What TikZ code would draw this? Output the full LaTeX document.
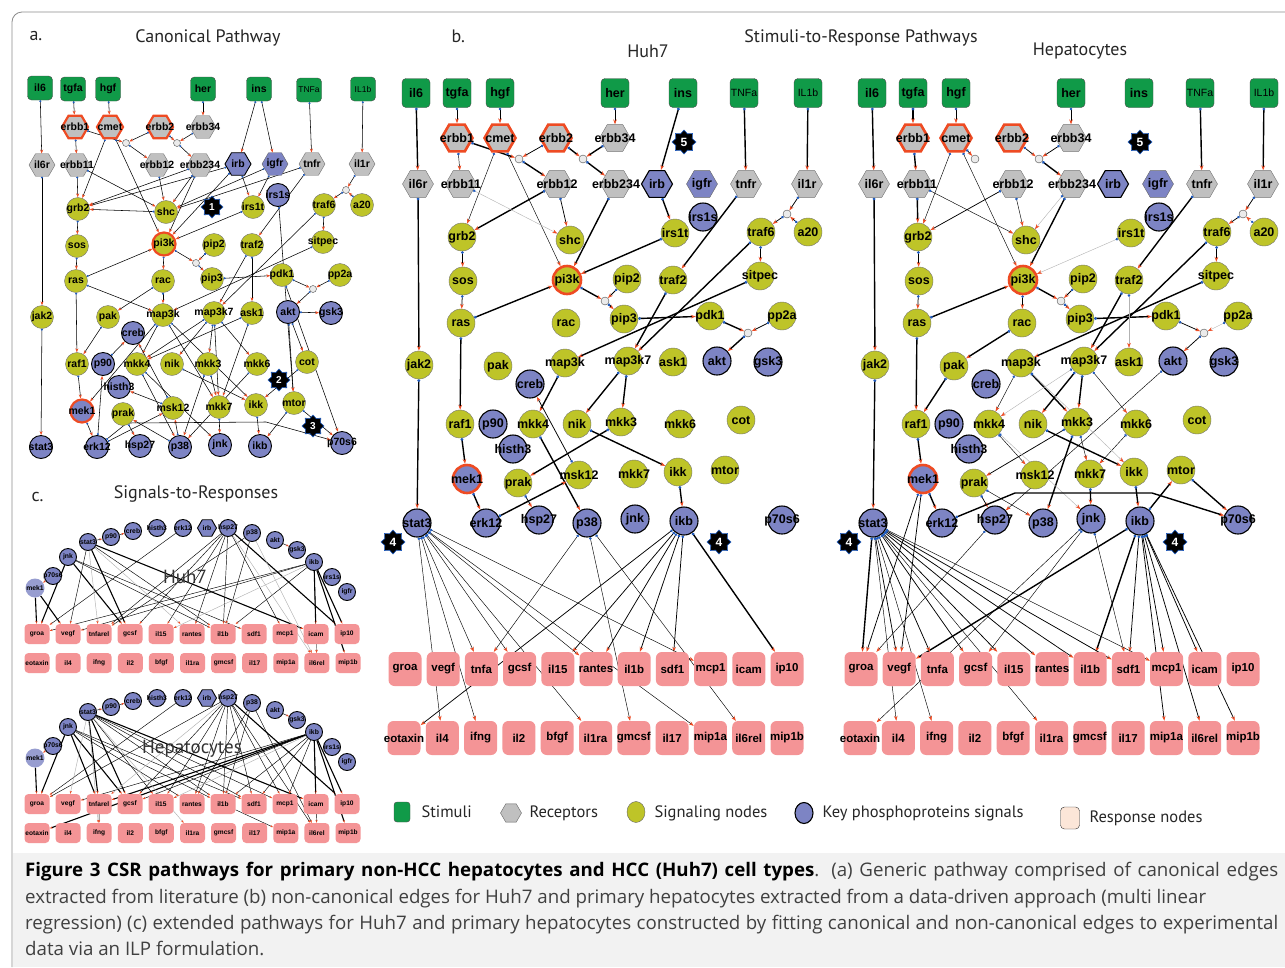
\documentclass[tikz,border=0pt]{standalone}
\usepackage{fontspec}
\setmainfont{PT Sans}
\newfontfamily\nf{Liberation Sans}
\newfontfamily\capf{Open Sans}
\usetikzlibrary{arrows.meta,shapes.geometric}
\pgfdeclarelayer{bg}
\pgfsetlayers{bg,main}
\definecolor{stimc}{RGB}{16,154,72}
\definecolor{recc}{RGB}{192,192,192}
\definecolor{sigc}{RGB}{190,196,40}
\definecolor{keyc}{RGB}{125,132,196}
\definecolor{respc}{RGB}{244,148,150}
\definecolor{redc}{RGB}{238,75,35}
\definecolor{dotc}{RGB}{30,90,190}
\definecolor{legresp}{RGB}{252,230,216}
\tikzset{
 stim/.style={rectangle, rounded corners=4pt, fill=stimc, draw=black!70, line width=0.4pt, minimum width=\Swd, minimum height=\Sht, inner sep=0pt},
 rec/.style={regular polygon, regular polygon sides=6, fill=recc, draw=black!55, line width=0.4pt, minimum size=\Hsz, inner sep=0pt},
 recr/.style={rec, draw=redc, line width=\Rwd},
 kph/.style={rec, fill=keyc, draw=black, line width=\Kwd},
 kpht/.style={rec, fill=keyc, draw=black!60, line width=0.4pt},
 sig/.style={circle, fill=sigc, draw=black!55, line width=0.4pt, minimum size=\Csz, inner sep=0pt},
 sigr/.style={sig, draw=redc, line width=\Rwd},
 kp/.style={circle, fill=keyc, draw=black, line width=\Kwd, minimum size=\Csz, inner sep=0pt},
 kpr/.style={kp, draw=redc, line width=\Rwd},
 kpm/.style={circle, fill=keyc!80!white, minimum size=19pt, inner sep=0pt},
 resp/.style={rectangle, rounded corners=\Rrc, fill=respc, minimum width=\RSw, minimum height=\RSh, inner sep=0pt},
 junc/.style={circle, fill=black!8, draw=black!70, line width=0.4pt, minimum size=8pt, inner sep=0pt},
 starn/.style={star, star points=8, star point ratio=1.35, fill=black, draw=dotc, line width=0.6pt, minimum size=\Ssz, inner sep=0pt, text=white, font=\nf\bfseries\Stf},
 lbl/.style={inner sep=0pt, font=\nf\bfseries\Lfnt},
 rl/.style={font=\nf\bfseries\RLf},
 stl/.style={font=\nf\mdseries\Sfnt},
 eb/.style={line width=0.75pt, {Circle[length=2.6pt,color=dotc]}-{Stealth[length=5pt,width=3.6pt,color=redc]}},
 ebk/.style={eb, line width=1.4pt},
 ebt/.style={eb, line width=0.45pt},
 ebl/.style={eb, line width=0.4pt, draw=black!30},
 eba/.style={line width=0.55pt, {Circle[length=2pt,color=dotc]}-{Stealth[length=4pt,width=3pt,color=redc]}},
 ec/.style={line width=0.45pt, -{Stealth[length=3pt,width=2.2pt,color=redc]}},
 eck/.style={ec, line width=1.1pt},
 ecl/.style={ec, draw=black!30},
 head/.style={font=\fontsize{18}{18}\selectfont, text=black!85},
 leg/.style={anchor=west, font=\fontsize{16.5}{16.5}\selectfont, text=black!85},
}
\newcommand\mknode[5][]{\node[#2] (#3) at (#4) {}; \node[lbl,#1] at (#3) {#5};}
\newcommand\edges[2]{\foreach \pA/\pB in {#2}{\draw[#1] (\pA) -- (\pB);}}

% ---------- panel b node layout (Huh7 frame) ----------
\newcommand\PanelBNodes{%
\mknode{stim}{il6}{416,93}{il6}
\mknode{stim}{tgfa}{457,93}{tgfa}
\mknode{stim}{hgf}{500,93}{hgf}
\mknode{stim}{her}{615,93}{her}
\mknode{stim}{ins}{683,93}{ins}
\mknode[stl]{stim}{TNFa}{744,93}{TNFa}
\mknode[stl]{stim}{IL1b}{808,93}{IL1b}
\mknode{recr}{erbb1}{457,138}{erbb1}
\mknode{recr}{cmet}{500,138}{cmet}
\mknode{recr}{erbb2}{556,138}{erbb2}
\mknode{rec}{erbb34}{615,138}{erbb34}
\mknode{rec}{il6r}{418,184}{il6r}
\mknode{rec}{erbb11}{461,184}{erbb11}
\mknode{rec}{erbb12}{557,184}{erbb12}
\mknode{rec}{erbb234}{616,184}{erbb234}
\mknode{kph}{irb}{657,184}{irb}
\mknode{kpht}{igfr}{702,184}{igfr}
\mknode{rec}{tnfr}{746,184}{tnfr}
\mknode{rec}{il1r}{807,184}{il1r}
\node[junc] (jA) at (519,159) {};
\node[junc] (jB) at (583,159) {};
\node[junc] (jC) at (787,214) {};
\node[junc] (jp) at (605,301) {};
\node[junc] (jD) at (748,333) {};
\node[starn] (s5) at (684,142) {5};
\mknode{kp}{rs1s}{703,217}{irs1s}
\mknode{sig}{grb2}{462,237}{grb2}
\mknode{sig}{shc}{570,240}{shc}
\mknode{sig}{irs1t}{675,233}{irs1t}
\mknode{sig}{traf6}{761,232}{traf6}
\mknode{sig}{a20}{808,232}{a20}
\mknode{sig}{sos}{463,281}{sos}
\mknode{sigr}{pi3k}{567,280}{pi3k}
\mknode{sig}{pip2}{627,279}{pip2}
\mknode{sig}{traf2}{673,280}{traf2}
\mknode{sig}{sitpec}{760,276}{sitpec}
\mknode{sig}{ras}{461,323}{ras}
\mknode{sig}{rac}{566,323}{rac}
\mknode{sig}{pip3}{624,319}{pip3}
\mknode{sig}{pdk1}{710,316}{pdk1}
\mknode{sig}{pp2a}{782,316}{pp2a}
\mknode{sig}{jak2}{419,365}{jak2}
\mknode{sig}{pak}{498,366}{pak}
\mknode{sig}{map3k}{565,363}{map3k}
\mknode{sig}{map3k7}{628,361}{map3k7}
\mknode{sig}{ask1}{673,362}{ask1}
\mknode{kp}{akt}{717,361}{akt}
\mknode{kp}{gsk3}{768,362}{gsk3}
\mknode{kp}{creb}{530,384}{creb}
\mknode{sig}{raf1}{460,424}{raf1}
\mknode{kp}{p90}{493,424}{p90}
\mknode{sig}{mkk4}{533,424}{mkk4}
\mknode{sig}{nik}{577,424}{nik}
\mknode{sig}{mkk3}{621,422}{mkk3}
\mknode{sig}{mkk6}{680,424}{mkk6}
\mknode{sig}{cot}{741,420}{cot}
\mknode{kp}{histh3}{513,449}{histh3}
\mknode{kpr}{mek1}{467,479}{mek1}
\mknode{sig}{prak}{518,483}{prak}
\mknode{sig}{msk12}{579,475}{msk12}
\mknode{sig}{mkk7}{634,474}{mkk7}
\mknode{sig}{ikk}{678,472}{ikk}
\mknode{sig}{mtor}{725,470}{mtor}
\mknode{kp}{stat3}{417,523}{stat3}
\mknode{kp}{erk12}{486,523}{erk12}
\mknode{kp}{hsp27}{539,520}{hsp27}
\mknode{kp}{p38}{587,523}{p38}
\mknode{kp}{jnk}{635,519}{jnk}
\mknode{kp}{ikb}{684,521}{ikb}
\mknode{kp}{p70s6}{782,520}{p70s6}
\node[starn] (s4a) at (393,542) {4};
\node[starn] (s4b) at (719,542) {4};
\foreach \n [count=\i from 0] in {groa,vegf,tnfa,gcsf,il15,rantes,il1b,sdf1,mcp1,icam,ip10}{\mknode[rl]{resp}{r\n}{405+38.2*\i,669}{\n}}
\foreach \n [count=\i from 0] in {eotaxin,il4,ifng,il2,bfgf,il1ra,gmcsf,il17,mip1a,il6rel,mip1b}{\mknode[rl]{resp}{r\n}{404+38.3*\i,738}{\n}}
}

% ---------- panel c node layout (Huh7 frame) ----------
\newcommand\PanelCNodes{%
\node[kpm] (mek1) at (35,588) {}; \node[lbl] at (mek1) {mek1};
\mknode{kp}{p70s6}{53,576}{p70s6}
\mknode{kp}{jnk}{68,557}{jnk}
\mknode{kp}{stat3}{88,542}{stat3}
\mknode{kp}{p90}{111,537}{p90}
\mknode{kp}{creb}{133,531}{creb}
\mknode{kp}{histh3}{157,528}{histh3}
\mknode{kp}{erk12}{183,528}{erk12}
\mknode{kph}{irb}{207,528}{irb}
\mknode{kp}{hsp27}{228,528}{hsp27}
\mknode{kp}{p38}{252,533}{p38}
\mknode{kp}{akt}{275,540}{akt}
\mknode{kp}{gsk3}{297,550}{gsk3}
\mknode{kp}{ikb}{314,562}{ikb}
\mknode{kp}{rs1s}{332,577}{irs1s}
\mknode{kp}{igfr}{347,592}{igfr}
\foreach \n [count=\i from 0] in {groa,vegf,tnfarel,gcsf,il15,rantes,il1b,sdf1,mcp1,icam,ip10}{\mknode[rl]{resp}{r\n}{37+31*\i,634}{\n}}
\foreach \n [count=\i from 0] in {eotaxin,il4,ifng,il2,bfgf,il1ra,gmcsf,il17,mip1a,il6rel,mip1b}{\mknode[rl]{resp}{r\n}{37+31.1*\i,663}{\n}}
}

\begin{document}
\begin{tikzpicture}[x=1pt,y=-1pt]
\useasboundingbox (0,0) rectangle (1285,967);
\begin{pgfonlayer}{bg}
\fill[white] (0,0) rectangle (1285,967);
\fill[black!5] (13,853) rectangle (1285,967);
\draw[black!45, line width=0.8pt, rounded corners=10pt] (12,967) -- (12,12) -- (1285,12);
\end{pgfonlayer}

% headings
\node[head, anchor=west] at (26,36) {a.};
\node[head] at (208,38) {Canonical Pathway};
\node[head, anchor=west] at (448,36) {b.};
\node[head] at (861,38) {Stimuli-to-Response Pathways};
\node[head] at (648,51) {Huh7};
\node[head] at (1080,51) {Hepatocytes};
\node[head, anchor=west] at (28,497) {c.};
\node[head] at (196,494) {Signals-to-Responses};

% ================= panel a =================
\begin{scope}[name prefix=a-]
\def\Csz{23pt}\def\Hsz{26pt}\def\Swd{25pt}\def\Sht{24pt}\def\Rwd{2.2pt}\def\Kwd{0.9pt}
\def\Lfnt{\fontsize{10.5}{10.5}\selectfont}\def\Sfnt{\fontsize{8.5}{8.5}\selectfont}
\def\Ssz{22pt}\def\Stf{\fontsize{10}{10}\selectfont}
\mknode{stim}{il6}{40,88}{il6}
\mknode{stim}{tgfa}{73,89}{tgfa}
\mknode{stim}{hgf}{108,89}{hgf}
\mknode{stim}{her}{203,89}{her}
\mknode{stim}{ins}{259,89}{ins}
\mknode[stl]{stim}{TNFa}{309,90}{TNFa}
\mknode[stl]{stim}{IL1b}{363,89}{IL1b}
\mknode{recr}{erbb1}{75,127}{erbb1}
\mknode{recr}{cmet}{110,127}{cmet}
\mknode{recr}{erbb2}{160,127}{erbb2}
\mknode{rec}{erbb34}{203,127}{erbb34}
\mknode{rec}{il6r}{42,165}{il6r}
\mknode{rec}{erbb11}{77,165}{erbb11}
\mknode{rec}{erbb12}{157,165}{erbb12}
\mknode{rec}{erbb234}{200,165}{erbb234}
\mknode{kph}{irb}{238,164}{irb}
\mknode{kpht}{igfr}{275,164}{igfr}
\mknode{rec}{tnfr}{312,164}{tnfr}
\mknode{rec}{il1r}{362,164}{il1r}
\node[junc,minimum size=7pt] (j1) at (126,143) {};
\node[junc,minimum size=7pt] (j2) at (177,143) {};
\node[junc,minimum size=7pt] (j3) at (346,190) {};
\node[junc,minimum size=7pt] (jp) at (196,263) {};
\node[junc,minimum size=7pt] (jd) at (313,289) {};
\mknode{kp}{rs1s}{278,195}{irs1s}
\mknode{sig}{grb2}{78,209}{grb2}
\mknode{sig}{shc}{166,212}{shc}
\node[starn] (s1) at (212,207) {1};
\mknode{sig}{irs1t}{253,207}{irs1t}
\mknode{sig}{traf6}{324,205}{traf6}
\mknode{sig}{a20}{362,205}{a20}
\mknode{sig}{sos}{77,246}{sos}
\mknode{sigr}{pi3k}{164,244}{pi3k}
\mknode{sig}{pip2}{214,245}{pip2}
\mknode{sig}{traf2}{252,245}{traf2}
\mknode{sig}{sitpec}{323,242}{sitpec}
\mknode{sig}{ras}{76,281}{ras}
\mknode{sig}{rac}{163,281}{rac}
\mknode{sig}{pip3}{212,279}{pip3}
\mknode{sig}{pdk1}{282,275}{pdk1}
\mknode{sig}{pp2a}{340,275}{pp2a}
\mknode{sig}{jak2}{42,317}{jak2}
\mknode{sig}{pak}{108,317}{pak}
\mknode{sig}{map3k}{163,315}{map3k}
\mknode{sig}{map3k7}{214,313}{map3k7}
\mknode{sig}{ask1}{252,313}{ask1}
\mknode{kp}{akt}{288,312}{akt}
\mknode{kp}{gsk3}{331,313}{gsk3}
\mknode{kp}{creb}{133,333}{creb}
\mknode{sig}{raf1}{77,364}{raf1}
\mknode{kp}{p90}{103,364}{p90}
\mknode{sig}{mkk4}{137,364}{mkk4}
\mknode{sig}{nik}{172,364}{nik}
\mknode{sig}{mkk3}{208,364}{mkk3}
\mknode{sig}{mkk6}{257,364}{mkk6}
\mknode{sig}{cot}{307,362}{cot}
\node[starn] (s2) at (279,380) {2};
\mknode{kp}{histh3}{119,387}{histh3}
\mknode{kpr}{mek1}{82,411}{mek1}
\mknode{sig}{prak}{123,414}{prak}
\mknode{sig}{msk12}{173,408}{msk12}
\mknode{sig}{mkk7}{219,407}{mkk7}
\mknode{sig}{ikk}{256,405}{ikk}
\mknode{sig}{mtor}{294,403}{mtor}
\node[starn] (s3) at (313,426) {3};
\mknode{kp}{stat3}{41,447}{stat3}
\mknode{kp}{erk12}{97,447}{erk12}
\mknode{kp}{hsp27}{140,446}{hsp27}
\mknode{kp}{p38}{180,447}{p38}
\mknode{kp}{jnk}{220,445}{jnk}
\mknode{kp}{ikb}{260,446}{ikb}
\mknode{kp}{p70s6}{342,443}{p70s6}
\begin{pgfonlayer}{bg}
\edges{eba}{il6/il6r, il6r/jak2, jak2/stat3, tgfa/erbb1, hgf/cmet, her/erbb34, ins/irb, ins/igfr, TNFa/tnfr, IL1b/il1r, erbb1/erbb11, erbb1/j1, erbb2/j1, j1/erbb12, erbb2/j2, erbb34/j2, j2/erbb234, il1r/j3, j3/traf6, a20/j3, erbb11/grb2, erbb11/shc, cmet/grb2, cmet/pi3k, erbb12/shc, erbb234/grb2, irb/grb2, erbb234/shc, igfr/shc, tnfr/shc, tnfr/traf2, erbb234/pi3k, irb/irs1t, igfr/irs1t, irs1t/pi3k, irb/pi3k, shc/grb2, grb2/sos, sos/ras, ras/pi3k, ras/map3k, ras/raf1, pi3k/rac, pi3k/jp, pip2/jp, jp/pip3, pip3/pdk1, pdk1/jd, pp2a/jd, jd/akt, rac/map3k, rac/pak, pak/raf1, traf6/sitpec, traf6/map3k7, sitpec/map3k, traf2/map3k7, traf2/ask1, akt/gsk3, akt/cot, akt/mtor, rs1s/mtor, pdk1/p70s6, map3k/mkk4, map3k/mkk7, map3k/ikk, map3k/mek1, map3k7/mkk4, map3k7/nik, map3k7/mkk3, map3k7/mkk6, map3k7/mkk7, ask1/mkk4, ask1/mkk7, raf1/mek1, mek1/erk12, erk12/p90, p90/creb, mkk4/p38, mkk4/jnk, mkk3/p38, mkk3/mkk7, mkk6/p38, mkk7/jnk, nik/ikk, ikk/ikb, mtor/p70s6, mtor/ikb, p38/msk12, msk12/histh3, msk12/creb, p38/prak, prak/hsp27, erk12/msk12, cot/ikk}
\draw[eba] (erk12) -- (127,423) -- (266,422) -- (p70s6);
\end{pgfonlayer}
\end{scope}

% ================= panel b : Huh7 =================
\begin{scope}[name prefix=h-]
\def\Csz{28pt}\def\Hsz{31pt}\def\Swd{28pt}\def\Sht{29pt}\def\Rwd{2.6pt}\def\Kwd{1.1pt}
\def\Lfnt{\fontsize{12.5}{12.5}\selectfont}\def\Sfnt{\fontsize{10.5}{10.5}\selectfont}
\def\Ssz{24pt}\def\Stf{\fontsize{12}{12}\selectfont}
\def\RSw{33pt}\def\RSh{34pt}\def\Rrc{6pt}\def\RLf{\fontsize{11.5}{11.5}\selectfont}
\PanelBNodes
\begin{pgfonlayer}{bg}
\edges{ebk}{il6/il6r, il6r/jak2, jak2/stat3, ins/irb, irb/irs1t, TNFa/tnfr, IL1b/il1r, erbb1/jA, jA/erbb12, erbb2/jB, erbb34/jB, jB/erbb234, erbb12/grb2, erbb234/pi3k, irs1t/pi3k, ras/pi3k, pi3k/jp, jp/pip3, pip3/pdk1, pdk1/jD, jD/akt, tnfr/traf2, traf6/map3k7, traf2/map3k7, sitpec/map3k, map3k/mkk4, map3k7/nik, map3k7/mkk3, ras/raf1, raf1/mek1, mek1/erk12, mkk3/prak, nik/ikk, mkk4/p38, erk12/msk12, ikk/ikb, ikb/rip10}
\edges{eb}{erbb2/jA, tgfa/erbb1, hgf/cmet, her/erbb34, erbb12/shc, grb2/sos, sos/ras, pip2/jp, pp2a/jD, il1r/jC, jC/traf6, a20/jC, traf6/sitpec, prak/hsp27, msk12/creb, ikb/reotaxin, ikb/ril15, ikb/rrantes, ikb/ril1b, ikb/rsdf1}
\edges{ebt}{cmet/grb2, cmet/pi3k, erbb1/erbb11, stat3/ril4, stat3/rifng, stat3/rtnfa, stat3/rgcsf, stat3/ril1ra, stat3/rrantes, stat3/rmcp1, stat3/rmip1a, p38/rtnfa, p38/rgmcsf, p38/ril6rel}
\edges{ebl}{erbb11/shc}
\end{pgfonlayer}
\end{scope}

% ================= panel b : Hepatocytes =================
\begin{scope}[name prefix=p-, xshift=456pt]
\def\Csz{28pt}\def\Hsz{31pt}\def\Swd{28pt}\def\Sht{29pt}\def\Rwd{2.6pt}\def\Kwd{1.1pt}
\def\Lfnt{\fontsize{12.5}{12.5}\selectfont}\def\Sfnt{\fontsize{10.5}{10.5}\selectfont}
\def\Ssz{24pt}\def\Stf{\fontsize{12}{12}\selectfont}
\def\RSw{33pt}\def\RSh{34pt}\def\Rrc{6pt}\def\RLf{\fontsize{11.5}{11.5}\selectfont}
\PanelBNodes
\begin{pgfonlayer}{bg}
\edges{ebk}{il6/il6r, il6r/jak2, jak2/stat3, TNFa/tnfr, IL1b/il1r, tgfa/erbb1, erbb1/erbb11, erbb11/grb2, jB/erbb234, erbb234/pi3k, ras/pi3k, rac/pak, pak/raf1, ras/raf1, raf1/mek1, pip3/pdk1, pi3k/jp, tnfr/traf2, traf2/map3k7, traf6/map3k7, sitpec/map3k, map3k/mkk3, map3k7/nik, map3k7/mkk3, nik/ikk, mkk3/p38, mtor/p70s6, ikb/mtor, ikk/ikb, mkk7/jnk, mek1/erk12, stat3/rgroa, ikb/rvegf, ikb/ril1b}
\edges{eb}{grb2/sos, sos/ras, pi3k/rac, jp/pip3, pip2/jp, pdk1/jD, jD/akt, il1r/jC, jC/traf6, traf6/sitpec, her/erbb34, erbb34/jB, erbb2/jB, hgf/cmet, cmet/jA, prak/hsp27, mkk3/prak, erbb12/grb2, stat3/rvegf, stat3/rtnfa, stat3/rgcsf, stat3/ril15, stat3/rrantes, stat3/ril1b, stat3/rsdf1, mek1/rgroa, mek1/rvegf, ikb/rsdf1, ikb/rmcp1, ikb/ricam, ikb/rmip1a, ikb/ril6rel, ikb/rmip1b}
\edges{ebt}{cmet/grb2, cmet/pi3k, erbb11/shc, erbb12/shc, map3k/mkk4, map3k7/mkk6, mkk3/mkk7, mkk6/mkk7, mkk4/msk12, prak/p38, akt/hsp27, stat3/ril4, stat3/rifng, stat3/rmcp1, stat3/ril1ra, hsp27/rgroa, jnk/rgcsf, jnk/reotaxin, jnk/rsdf1}
\edges{ebl}{erbb234/shc, irs1t/pi3k, traf2/ask1, map3k7/mkk4, map3k/ikk, mkk4/jnk, a20/jC, pp2a/jD}
\draw[ebk] (erk12) -- (559,493) -- (696,493) -- (p70s6);
\end{pgfonlayer}
\end{scope}

% ================= panel c : Huh7 =================
\begin{scope}[name prefix=c-]
\def\Csz{17pt}\def\Hsz{19pt}\def\Rwd{2pt}\def\Kwd{0.9pt}
\def\Lfnt{\fontsize{6.8}{6.8}\selectfont}
\def\RSw{25pt}\def\RSh{20pt}\def\Rrc{4pt}\def\RLf{\fontsize{6.6}{6.6}\selectfont}
\PanelCNodes
\begin{pgfonlayer}{bg}
\edges{eck}{mek1/rgroa, mek1/rvegf, jnk/rgroa, jnk/rgcsf, stat3/rgcsf, stat3/ricam, hsp27/rip10, ikb/ricam, ikb/rip10, ikb/rmip1b}
\edges{ec}{p70s6/mek1, stat3/p90, p90/creb, akt/gsk3, jnk/ril1b, jnk/rsdf1, stat3/rvegf, stat3/ril1b, erk12/rgroa, hsp27/rtnfarel, hsp27/rgcsf, hsp27/ril15, hsp27/rrantes, hsp27/ril1b, hsp27/rmcp1, p38/ril1b, p38/rtnfarel, ikb/rgroa, ikb/rvegf, ikb/ril1b, ikb/ril6rel}
\edges{ecl}{stat3/rtnfarel, ikb/ril15, p38/ril6rel, hsp27/ril6rel, ricam/ril6rel, stat3/rrantes}
\end{pgfonlayer}
\end{scope}
\node[font=\fontsize{19}{19}\selectfont, text=black!80] at (185,577) {Huh7};

% ================= panel c : Hepatocytes =================
\begin{scope}[name prefix=d-, yshift=-170pt]
\def\Csz{17pt}\def\Hsz{19pt}\def\Rwd{2pt}\def\Kwd{0.9pt}
\def\Lfnt{\fontsize{6.8}{6.8}\selectfont}
\def\RSw{25pt}\def\RSh{20pt}\def\Rrc{4pt}\def\RLf{\fontsize{6.6}{6.6}\selectfont}
\PanelCNodes
\begin{pgfonlayer}{bg}
\edges{eck}{mek1/rgroa, jnk/rgroa, jnk/rtnfarel, jnk/rgcsf, stat3/rgcsf, stat3/rtnfarel, stat3/ricam, hsp27/rip10, ikb/rtnfarel, ikb/ricam, ikb/rip10, ikb/rmip1b, ikb/reotaxin}
\edges{ec}{p70s6/mek1, stat3/p90, p90/creb, akt/gsk3, jnk/ril1b, jnk/rsdf1, jnk/rrantes, stat3/ril15, stat3/ril1b, stat3/rsdf1, stat3/rmcp1, erk12/rgroa, hsp27/rgroa, hsp27/rgcsf, hsp27/ril15, hsp27/rrantes, hsp27/ril1b, hsp27/rsdf1, hsp27/rmcp1, hsp27/ril6rel, p38/ril1b, p38/ril6rel, p38/rrantes, ikb/rvegf, ikb/rgcsf, ikb/ril1b, ikb/rsdf1, ikb/rmcp1, ikb/ril6rel, ril1b/rmip1a, rtnfarel/rifng}
\edges{ecl}{stat3/rvegf, stat3/rifng, ikb/ril15, hsp27/rtnfarel, stat3/ril1ra}
\end{pgfonlayer}
\end{scope}
\node[font=\fontsize{19}{19}\selectfont, text=black!80] at (192,749) {Hepatocytes};

% ================= legend =================
\node[rectangle, rounded corners=3pt, fill=stimc, draw=black!70, minimum width=16pt, minimum height=20pt] at (402,812) {};
\node[leg] at (418,812) {Stimuli};
\node[regular polygon, regular polygon sides=6, fill=recc, draw=black!60, minimum size=21pt, inner sep=0pt] at (511,813) {};
\node[leg] at (526,813) {Receptors};
\node[ellipse, fill=sigc, draw=black!60, minimum width=18pt, minimum height=21pt, inner sep=0pt] at (636,812) {};
\node[leg] at (651,813) {Signaling nodes};
\node[ellipse, fill=keyc, draw=black, line width=1.1pt, minimum width=18pt, minimum height=21pt, inner sep=0pt] at (804,813) {};
\node[leg] at (819,813) {Key phosphoproteins signals};
\node[rectangle, rounded corners=4pt, fill=legresp, draw=black!80, minimum width=19pt, minimum height=22pt] at (1070,818) {};
\node[leg] at (1086,818) {Response nodes};

% ================= caption =================
\begin{scope}[every node/.style={anchor=base west, inner sep=0pt, font=\capf\fontsize{18.7}{20}\selectfont, text=black!75}]
\node at (25,876) {\makebox[1253pt][s]{\textcolor{black}{\textbf{Figure 3 CSR pathways for primary non-HCC hepatocytes and HCC (Huh7) cell types}}. (a) Generic pathway comprised of canonical edges}};
\node at (25,903) {extracted from literature (b) non-canonical edges for Huh7 and primary hepatocytes extracted from a data-driven approach (multi linear};
\node at (25,929) {\makebox[1253pt][s]{regression) (c) extended pathways for Huh7 and primary hepatocytes constructed by fitting canonical and non-canonical edges to experimental}};
\node at (25,955) {data via an ILP formulation.};
\end{scope}
\end{tikzpicture}
\end{document}
